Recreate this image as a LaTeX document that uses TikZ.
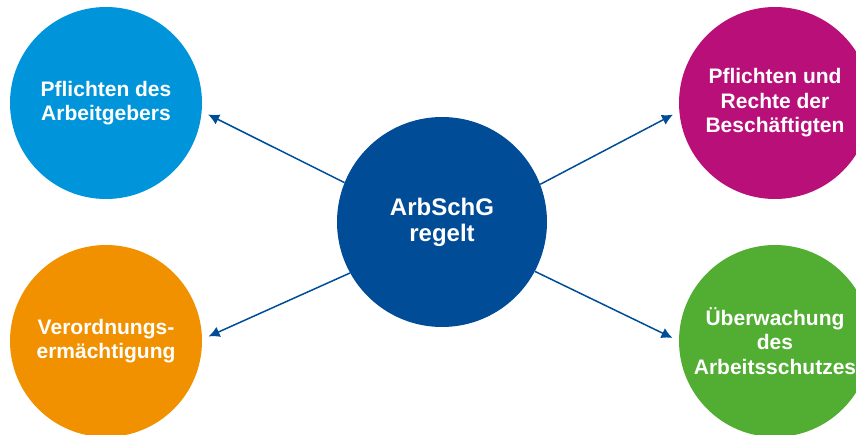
\documentclass[tikz,border=0pt]{standalone}
\usepackage{fontspec}
\setmainfont{Liberation Sans}
\usetikzlibrary{positioning,arrows.meta}

\definecolor{hellblau}{RGB}{0,149,218}
\definecolor{dunkelblau}{RGB}{0,76,151}
\definecolor{magenta}{RGB}{184,15,120}
\definecolor{orange}{RGB}{242,145,0}
\definecolor{gruen}{RGB}{82,174,50}

\tikzset{
	kreis/.style={circle, inner sep=0pt, minimum size=192pt, text=white, align=center,
		font=\bfseries\fontsize{21}{24.5}\selectfont},
	pfeil/.style={draw=dunkelblau, line width=1.5pt, arrows={-{Latex[length=11pt,width=11pt]}}, shorten >=7pt}
}

\begin{document}
\begin{tikzpicture}[x=1pt,y=-1pt]

		\useasboundingbox (0,0) rectangle (856,435);

		\node[kreis, fill=dunkelblau, minimum size=210pt, font=\bfseries\fontsize{24}{26}\selectfont] (GG) at (442,222) {ArbSchG\\regelt};

		\node[kreis, fill=hellblau] (AG) at (106,103) {Pflichten des\\Arbeitgebers};
		\node[kreis, fill=magenta] (BS) at (775,103) {Pflichten und\\Rechte der\\Besch\"aftigten};
		\node[kreis, fill=orange] (VO) at (106,341) {Verordnungs-\\erm\"achtigung};
		\node[kreis, fill=gruen] (UE) at (775,341) {\"Uberwachung\\des\\Arbeitsschutzes};

		\draw [pfeil] (GG.158) -- (AG.-5.5);
		\draw [pfeil] (GG.21.5) -- (BS.185.5);
		\draw [pfeil] (GG.209.7) -- (VO.1.7);
		\draw [pfeil] (GG.-28.3) -- (UE.180);
	\end{tikzpicture}
\end{document}
